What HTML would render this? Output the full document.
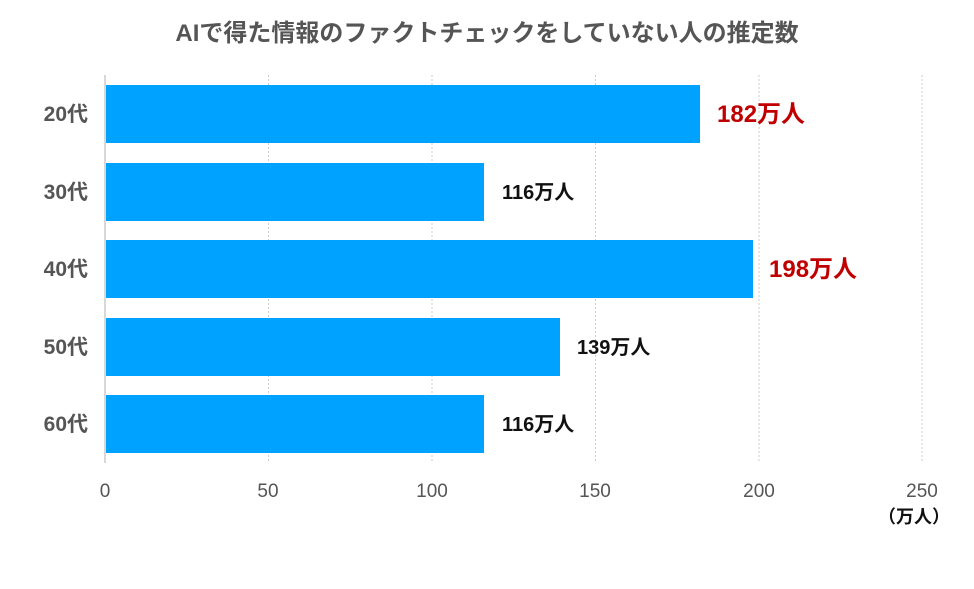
<!DOCTYPE html>
<html><head><meta charset="utf-8"><style>body{margin:0;background:#fff}svg{display:block}text{font-family:"Liberation Sans","Noto Sans CJK JP",sans-serif}</style></head><body>
<svg width="974" height="589" xmlns="http://www.w3.org/2000/svg">
<rect width="974" height="589" fill="#fff"/>
<text x="487" y="41" text-anchor="middle" font-size="24" font-weight="bold" fill="#555">AIで得た情報のファクトチェックをしていない人の推定数</text>
<g stroke="#ccc" stroke-width="1" stroke-dasharray="2,2">
<line x1="268.5" y1="75" x2="268.5" y2="463"/><line x1="432" y1="75" x2="432" y2="463"/><line x1="595.5" y1="75" x2="595.5" y2="463"/><line x1="759" y1="75" x2="759" y2="463"/><line x1="922" y1="75" x2="922" y2="463"/>
</g>
<line x1="105" y1="75" x2="105" y2="463" stroke="#ccc" stroke-width="1.5"/>
<g fill="#00a2ff">
<rect x="106" y="85" width="594" height="58"/>
<rect x="106" y="163" width="378" height="58"/>
<rect x="106" y="240" width="647" height="58"/>
<rect x="106" y="318" width="454" height="58"/>
<rect x="106" y="395" width="378" height="58"/>
</g>
<g font-size="21" font-weight="bold" fill="#555" text-anchor="end">
<text x="88" y="121">20代</text><text x="88" y="199">30代</text><text x="88" y="276">40代</text><text x="88" y="354">50代</text><text x="88" y="431">60代</text>
</g>
<text x="717" y="122" font-size="24" font-weight="bold" fill="#c00000">182万人</text>
<text x="502" y="199" font-size="20" font-weight="bold" fill="#111">116万人</text>
<text x="769" y="277" font-size="24" font-weight="bold" fill="#c00000">198万人</text>
<text x="577" y="354" font-size="20" font-weight="bold" fill="#111">139万人</text>
<text x="502" y="431" font-size="20" font-weight="bold" fill="#111">116万人</text>
<g font-size="19" fill="#555" text-anchor="middle">
<text x="105" y="497">0</text><text x="268" y="497">50</text><text x="432" y="497">100</text><text x="595" y="497">150</text><text x="759" y="497">200</text><text x="922" y="497">250</text>
</g>
<text x="914" y="523" font-size="18" font-weight="bold" fill="#111" text-anchor="middle">（万人）</text>
</svg>
</body></html>
